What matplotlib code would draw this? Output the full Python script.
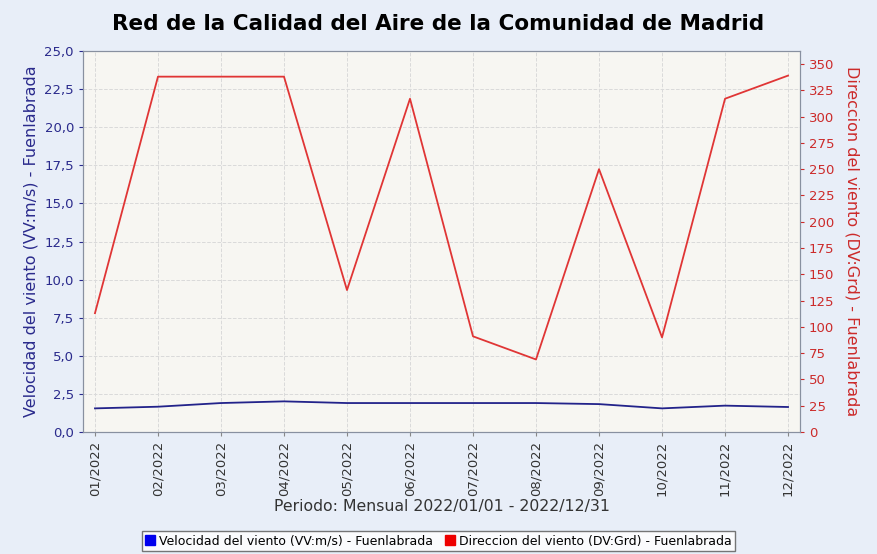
import matplotlib
matplotlib.use('Agg')
import matplotlib.pyplot as plt
from matplotlib.patches import Patch
from matplotlib.ticker import FuncFormatter, MultipleLocator

months = ['01/2022', '02/2022', '03/2022', '04/2022', '05/2022', '06/2022',
          '07/2022', '08/2022', '09/2022', '10/2022', '11/2022', '12/2022']
velocidad = [1.55, 1.66, 1.90, 2.01, 1.90, 1.90, 1.90, 1.90, 1.83, 1.55, 1.73, 1.64]
direccion = [113, 338, 338, 338, 135, 317, 91, 69, 250, 90, 317, 339]

bg = '#e8eef8'
plot_bg = '#f7f6f2'
blue_txt = '#2a2a8c'
red_txt = '#cc2a2a'

fig = plt.figure(figsize=(8.77, 5.54), dpi=100, facecolor=bg)
ax = fig.add_axes([83/877, 1 - 432/554, 717/877, 381/554])
ax.set_facecolor(plot_bg)
x = list(range(len(months)))

ax.plot(x, velocidad, color='#22228a', lw=1.3, zorder=3)
ax.set_ylim(0, 25)
ax.set_xlim(-0.19, len(months) - 1 + 0.19)
ax.yaxis.set_major_locator(MultipleLocator(2.5))
ax.yaxis.set_major_formatter(FuncFormatter(lambda v, p: ('%.1f' % v).replace('.', ',')))
ax.set_xticks(x)
ax.set_xticklabels(months, rotation=90, fontsize=9.5, color='#333333')
ax.tick_params(axis='y', colors=blue_txt, labelsize=9.5, length=3)
ax.tick_params(axis='x', length=3, color='#888888')
ax.set_ylabel('Velocidad del viento (VV:m/s) - Fuenlabrada', color=blue_txt, fontsize=11.5)
ax.set_xlabel('Periodo: Mensual 2022/01/01 - 2022/12/31', fontsize=11.3, color='#333333',
              labelpad=2)
ax.grid(True, color='#dadada', linestyle='--', lw=0.7)
for s in ax.spines.values():
    s.set_color('#8890a0')

ax2 = ax.twinx()
ax2.plot(x, direccion, color='#e03535', lw=1.3, zorder=3)
ax2.set_ylim(0, 362.4)
ax2.yaxis.set_major_locator(MultipleLocator(25))
ax2.tick_params(axis='y', colors=red_txt, labelsize=9.5, length=3)
ax2.set_ylabel('Direccion del viento (DV:Grd) - Fuenlabrada', color=red_txt, fontsize=11.5,
               rotation=270, labelpad=18)
for s in ax2.spines.values():
    s.set_color('#8890a0')

fig.suptitle('Red de la Calidad del Aire de la Comunidad de Madrid', fontsize=15.5,
             fontweight='bold', y=0.975, x=0.5)

handles = [Patch(color='#0000ee', label='Velocidad del viento (VV:m/s) - Fuenlabrada'),
           Patch(color='#ee0000', label='Direccion del viento (DV:Grd) - Fuenlabrada')]
leg = fig.legend(handles=handles, loc='center', bbox_to_anchor=(0.5, 1 - 541/554), ncol=2,
                 fontsize=9, frameon=True, fancybox=False, handlelength=0.8,
                 handleheight=0.8, handletextpad=0.3, columnspacing=1.0,
                 borderpad=0.25, edgecolor='#555555')
leg.get_frame().set_facecolor('white')

fig.savefig('out.png', dpi=100, facecolor=bg)
